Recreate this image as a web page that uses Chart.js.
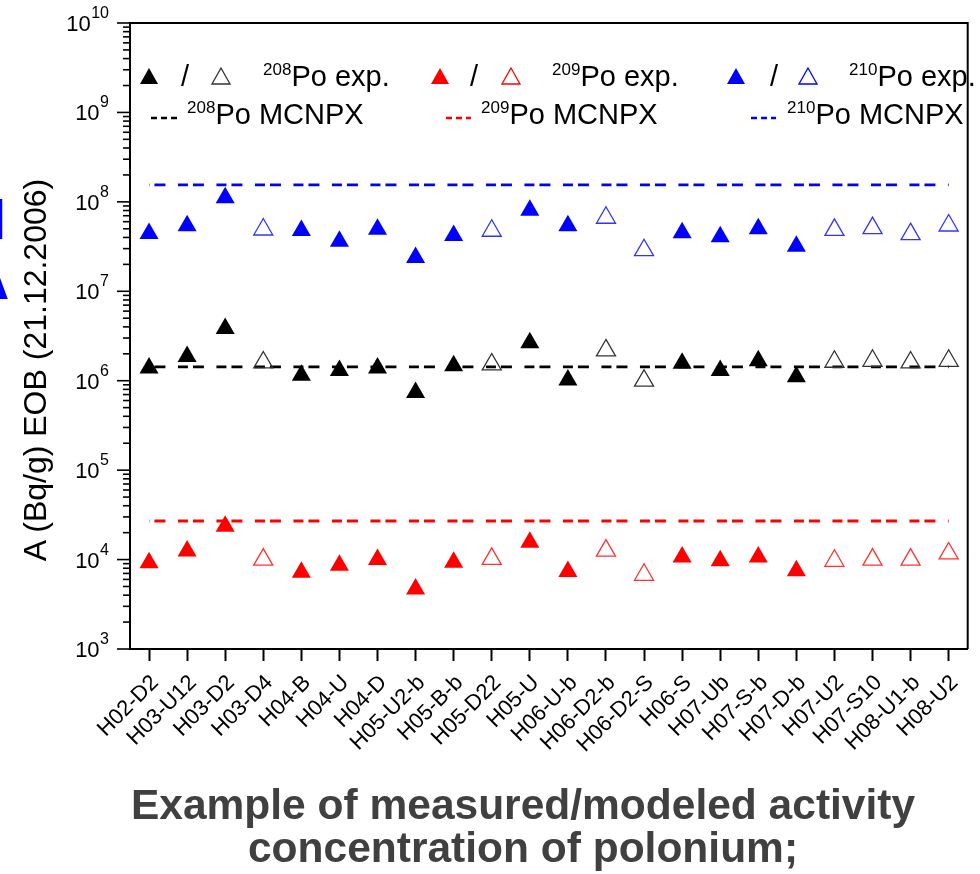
<!DOCTYPE html>
<html>
<head>
<meta charset="utf-8">
<script src="https://cdn.jsdelivr.net/npm/chart.js@4.4.1/dist/chart.umd.min.js"></script>
<style>
html,body{margin:0;padding:0;background:#fff;}
#wrap{position:relative;width:980px;height:874px;overflow:hidden;font-family:'Liberation Sans',Arial,sans-serif;color:#000;}
#c{position:absolute;left:0;top:0;}
.t{position:absolute;white-space:nowrap;line-height:1;}
.lg{font-size:29px;}
.lg sup{font-size:17px;position:relative;top:-11px;vertical-align:baseline;}
.mk{position:absolute;}
</style>
</head>
<body>
<div id="wrap">
<canvas id="c" width="980" height="874"></canvas>

<!-- clipped blue letters from the slide, at the left edge -->
<div class="t" style="left:-10px;top:190px;font-size:58px;font-weight:bold;color:#0000ff;">I</div>
<div class="t" style="left:-34px;top:249px;font-size:60px;font-weight:bold;color:#0000ff;">A</div>

<!-- y axis title -->
<div class="t" id="ytitle" style="left:35px;top:370px;font-size:32px;transform:translate(-50%,-50%) rotate(-90deg);">A (Bq/g) EOB (21.12.2006)</div>

<!-- legend -->
<div id="legend"></div>

<!-- bottom caption -->
<div class="t" style="left:523px;top:784px;transform:translateX(-50%);font-size:42.5px;font-weight:bold;color:#404040;">Example of measured/modeled activity</div>
<div class="t" style="left:523px;top:827px;transform:translateX(-50%);font-size:42.5px;font-weight:bold;color:#404040;">concentration of polonium;</div>
</div>

<script>
// ---------------- data ----------------
const categories = ['H02-D2','H03-U12','H03-D2','H03-D4','H04-B','H04-U','H04-D','H05-U2-b','H05-B-b','H05-D22','H05-U','H06-U-b','H06-D2-b','H06-D2-S','H06-S','H07-Ub','H07-S-b','H07-D-b','H07-U2','H07-S10','H08-U1-b','H08-U2'];
// 1 = hollow marker, 0 = filled marker
const hollow = [0,0,0,1,0,0,0,0,0,1,0,0,1,1,0,0,0,0,1,1,1,1];
const po208exp = [1.39e6,1.87e6,3.84e6,1.60e6,1.15e6,1.30e6,1.39e6,7.4e5,1.47e6,1.52e6,2.65e6,1.02e6,2.18e6,1.00e6,1.57e6,1.30e6,1.67e6,1.11e6,1.63e6,1.67e6,1.60e6,1.67e6];
const po209exp = [9.2e3,1.25e4,2.36e4,1.00e4,7.2e3,8.65e3,1.00e4,4.7e3,9.35e3,1.02e4,1.56e4,7.36e3,1.26e4,6.76e3,1.07e4,9.69e3,1.07e4,7.5e3,9.69e3,1.00e4,1.00e4,1.17e4];
const po210exp = [4.43e7,5.40e7,1.11e8,4.91e7,4.79e7,3.63e7,4.95e7,2.39e7,4.21e7,4.75e7,8.07e7,5.40e7,6.64e7,2.88e7,4.51e7,4.07e7,5.00e7,3.19e7,4.87e7,5.08e7,4.35e7,5.44e7];
const po208mcnpx = 1.43e6;
const po209mcnpx = 2.70e4;
const po210mcnpx = 1.55e8;
const yTickExponents = ['3','4','5','6','7','8','9','10'];
const yTickBase = '10';
const legendIsotopes = ['208','209','210'];
const legendColors = ['#000000','#ff0000','#0000ff'];

// ---------------- helpers ----------------
const FONT = "'Liberation Sans', Arial, sans-serif";
function expDataset(values, fill, hollowColor) {
  return {
    type: 'scatter',
    data: values.map((v, i) => ({x: categories[i], y: v})),
    pointStyle: 'triangle',
    pointRadius: 11,
    pointHoverRadius: 11,
    borderWidth: ctx => hollow[ctx.dataIndex] ? 1.3 : 0,
    pointBorderColor: ctx => hollow[ctx.dataIndex] ? hollowColor : fill,
    pointBackgroundColor: ctx => hollow[ctx.dataIndex] ? 'rgba(0,0,0,0)' : fill,
    order: 1
  };
}
function mcnpxDataset(value, color) {
  return {
    type: 'line',
    data: [{x: categories[0], y: value}, {x: categories[categories.length - 1], y: value}],
    borderColor: color,
    borderWidth: 2.8,
    borderDash: [10, 5, 11, 12.5],
    borderDashOffset: 9.6,
    pointRadius: 0,
    fill: false,
    order: 2
  };
}

const axisPlugin = {
  id: 'axisDecor',
  afterDraw(chart) {
    const ctx = chart.ctx, ys = chart.scales.y, a = chart.chartArea;
    ctx.save();
    // frame top & right
    ctx.strokeStyle = '#000';
    ctx.lineWidth = 2;
    ctx.beginPath();
    ctx.moveTo(a.left, a.top); ctx.lineTo(a.right, a.top); ctx.lineTo(a.right, a.bottom);
    ctx.stroke();
    // y ticks (major + minor), outward
    ctx.lineWidth = 1.6;
    const eMin = parseInt(yTickExponents[0]), eMax = parseInt(yTickExponents[yTickExponents.length - 1]);
    for (let e = eMin; e <= eMax; e++) {
      for (let m = 1; m <= 9; m++) {
        if (e === eMax && m > 1) break;
        const py = ys.getPixelForValue(m * Math.pow(10, e));
        const len = m === 1 ? 13 : 7;
        ctx.beginPath(); ctx.moveTo(a.left - len, py); ctx.lineTo(a.left, py); ctx.stroke();
      }
    }
    // y tick labels: 10 with superscript exponent
    ctx.fillStyle = '#000';
    ctx.textBaseline = 'alphabetic';
    const rightX = 109;
    yTickExponents.forEach(ex => {
      const py = ys.getPixelForValue(Math.pow(10, parseInt(ex)));
      ctx.font = '16px ' + FONT;
      const ws = ctx.measureText(ex).width;
      ctx.textAlign = 'right';
      ctx.fillText(ex, rightX, py - 5);
      ctx.font = '22px ' + FONT;
      ctx.fillText(yTickBase, rightX - ws - 0.5, py + 8);
    });
    ctx.restore();
  }
};

new Chart(document.getElementById('c'), {
  data: {
    labels: categories,
    datasets: [
      mcnpxDataset(po208mcnpx, '#000000'),
      mcnpxDataset(po209mcnpx, '#ff0000'),
      mcnpxDataset(po210mcnpx, '#0000ff'),
      expDataset(po208exp, '#000000', '#333333'),
      expDataset(po209exp, '#ff0000', '#ff3030'),
      expDataset(po210exp, '#0000ff', '#3333ff')
    ]
  },
  options: {
    responsive: false,
    animation: false,
    devicePixelRatio: 1,
    layout: {padding: {top: 23, right: 2, left: 0, bottom: 0}},
    plugins: {legend: {display: false}, tooltip: {enabled: false}, title: {display: false}},
    scales: {
      x: {
        type: 'category',
        labels: categories,
        offset: true,
        grid: {display: true, drawOnChartArea: false, drawTicks: true, tickLength: 12, tickWidth: 2, tickColor: '#000', offset: false},
        border: {display: true, color: '#000', width: 2},
        ticks: {autoSkip: false, minRotation: 45, maxRotation: 45, color: '#000', font: {family: FONT, size: 22}, padding: 9, labelOffset: 6},
        afterFit: s => { s.height = 874 - 649; }
      },
      y: {
        type: 'logarithmic',
        min: 1e3,
        max: 1e10,
        grid: {display: false, drawTicks: false},
        border: {display: true, color: '#000', width: 2},
        ticks: {display: false},
        afterFit: s => { s.width = 130; }
      }
    }
  },
  plugins: [axisPlugin]
});

// ---------------- legend (HTML) ----------------
(function buildLegend() {
  const lg = document.getElementById('legend');
  const row1Base = 87, row2Base = 125;
  const groups = [
    {tri: 149, slash: 181, open: 221, text1: 263, dash: 151, dashW: 28, text2: 187},
    {tri: 440, slash: 470, open: 511, text1: 552, dash: 446, dashW: 25, text2: 481},
    {tri: 736, slash: 770, open: 808, text1: 849, dash: 751, dashW: 25, text2: 787}
  ];
  const fs = 29, topOff = (fs - 1.117 * fs) / 2 + 0.905 * fs;
  function tri(cx, cy, color, filled) {
    const s = document.createElementNS('http://www.w3.org/2000/svg', 'svg');
    s.setAttribute('width', 20); s.setAttribute('height', 18);
    s.setAttribute('class', 'mk');
    s.style.left = (cx - 10) + 'px'; s.style.top = (cy - 10) + 'px';
    const p = document.createElementNS('http://www.w3.org/2000/svg', 'polygon');
    p.setAttribute('points', '10,1 19,17 1,17');
    p.setAttribute('fill', filled ? color : 'none');
    p.setAttribute('stroke', color);
    p.setAttribute('stroke-width', filled ? 0 : 1.3);
    s.appendChild(p);
    lg.appendChild(s);
  }
  function text(x, base, html, color) {
    const d = document.createElement('div');
    d.className = 't lg';
    d.style.left = x + 'px';
    d.style.top = (base - topOff) + 'px';
    d.style.lineHeight = fs + 'px';
    if (color) d.style.color = color;
    d.innerHTML = html;
    lg.appendChild(d);
  }
  function dash(x, y, w, color) {
    const s = document.createElementNS('http://www.w3.org/2000/svg', 'svg');
    s.setAttribute('width', w); s.setAttribute('height', 6);
    s.setAttribute('class', 'mk');
    s.style.left = x + 'px'; s.style.top = (y - 3) + 'px';
    const l = document.createElementNS('http://www.w3.org/2000/svg', 'line');
    l.setAttribute('x1', 0); l.setAttribute('x2', w); l.setAttribute('y1', 3); l.setAttribute('y2', 3);
    l.setAttribute('stroke', color); l.setAttribute('stroke-width', 2.6);
    l.setAttribute('stroke-dasharray', '6,4');
    s.appendChild(l);
    lg.appendChild(s);
  }
  groups.forEach((g, i) => {
    const c = legendColors[i];
    tri(g.tri, 77, c, true);
    text(g.slash, row1Base, '/');
    tri(g.open, 77, i === 0 ? '#333333' : c, false);
    text(g.text1, row1Base, '<sup>' + legendIsotopes[i] + '</sup>Po exp.');
    dash(g.dash, 118, g.dashW, c);
    text(g.text2, row2Base, '<sup>' + legendIsotopes[i] + '</sup>Po MCNPX');
  });
})();
</script>
</body>
</html>
